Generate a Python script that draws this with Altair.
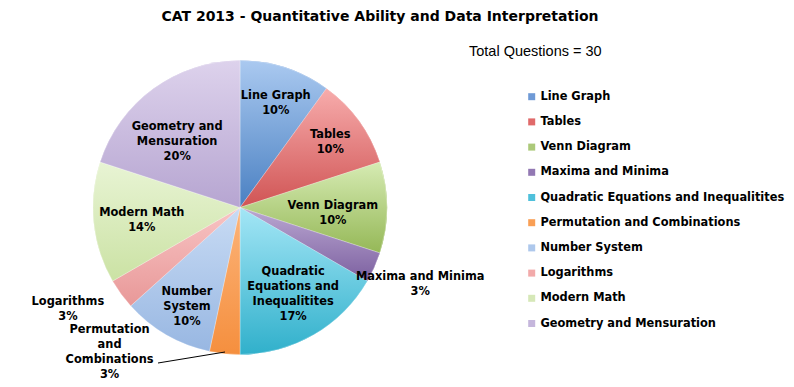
import altair as alt
import pandas as pd

categories = ["Line Graph", "Tables", "Venn Diagram", "Maxima and Minima",
              "Quadratic Equations and Inequalitites", "Permutation and Combinations",
              "Number System", "Logarithms", "Modern Math", "Geometry and Mensuration"]
counts = [3, 3, 3, 1, 5, 1, 3, 1, 4, 6]
pct_labels = ["10%", "10%", "10%", "3%", "17%", "3%", "10%", "3%", "14%", "20%"]
slice_names = ["Line Graph", "Tables", "Venn Diagram", "Maxima and Minima",
               "Quadratic\nEquations and\nInequalitites", "Permutation\nand\nCombinations",
               "Number\nSystem", "Logarithms", "Modern Math", "Geometry and\nMensuration"]
colors = ["#6f9ad6", "#e06a6a", "#acc97a", "#9278b3", "#4fc0db",
          "#f99f55", "#aec8ec", "#f2aaaa", "#d6e8b8", "#c5b6dc"]
top_colors = ["#aac9f0", "#f7acac", "#d6ebb3", "#bba8d2", "#a4e6f6",
              "#fcb47a", "#c8dbf4", "#f8c4c4", "#e8f4d4", "#ddd2ec"]
bottom_colors = ["#4a80c2", "#d05454", "#95b857", "#7c60a0", "#30b0cb",
                 "#f58f3e", "#98b7e2", "#e89898", "#cbe2a4", "#b6a5d1"]
title_text = "CAT 2013 - Quantitative Ability and Data Interpretation"
note_text = "Total Questions = 30"

labels = [n + "\n" + p for n, p in zip(slice_names, pct_labels)]
df = pd.DataFrame({
    "cat": categories,
    "count": counts,
    "idx": list(range(len(categories))),
    "label": labels,
})

CX, CY, R = 232, 199.5, 147
FONT = "DejaVu Sans"
FS = 11.4
LH = 15

base = alt.Chart(df).encode(
    theta=alt.Theta("count:Q", stack=True),
    order=alt.Order("idx:Q"),
)

arcs = base.mark_arc(outerRadius=R).encode(
    x=alt.value(CX), y=alt.value(CY),
    color=alt.Color("cat:N", sort=categories,
                    scale=alt.Scale(domain=categories, range=colors),
                    legend=alt.Legend(title=None, orient="none", legendX=518, legendY=83,
                                      symbolType="square", symbolSize=49, symbolStrokeWidth=0,
                                      labelFont=FONT, labelFontSize=11.4, labelFontWeight="bold",
                                      labelColor="black", rowPadding=12.2, padding=0,
                                      labelOffset=3, labelLimit=400)),
)


def grad_layer(cat, top, bottom):
    return base.mark_arc(
        outerRadius=R, stroke="white", strokeWidth=0.3,
        fill=alt.Gradient(gradient="linear", x1=0, y1=0, x2=0, y2=1,
                          stops=[alt.GradientStop(color=top, offset=0),
                                 alt.GradientStop(color=bottom, offset=1)]),
    ).encode(
        x=alt.value(CX), y=alt.value(CY),
        opacity=alt.condition("datum.cat == '" + cat + "'", alt.value(1), alt.value(0)),
    )


grads = [grad_layer(c, t, b) for c, t, b in zip(categories, top_colors, bottom_colors)]


def text_layer(cat, radius, theta_offset=0.0):
    nlines = labels[categories.index(cat)].count("\n") + 1
    expr = "datum.cat == '" + cat + "' ? datum.label : ''"
    return base.transform_calculate(t=expr).mark_text(
        radius=radius, thetaOffset=theta_offset, lineBreak="\n", lineHeight=LH, font=FONT,
        fontSize=FS, fontWeight="bold", color="black", align="center", baseline="middle",
        dy=-(nlines - 1) * LH / 2,
    ).encode(x=alt.value(CX), y=alt.value(CY), text="t:N")


layers = [
    text_layer("Line Graph", 110, 0.017),
    text_layer("Tables", 111, 0.007),
    text_layer("Venn Diagram", 93, 0.06),
    text_layer("Quadratic Equations and Inequalitites", 102, -0.024),
    text_layer("Number System", 113, -0.035),
    text_layer("Modern Math", 99, -0.023),
    text_layer("Geometry and Mensuration", 91, -0.134),
    text_layer("Maxima and Minima", 196, -0.015),
    text_layer("Logarithms", 200, 0.094),
    text_layer("Permutation and Combinations", 195, 0.628),
]

leader = alt.Chart(pd.DataFrame({"a": [0]})).mark_rule(color="black", strokeWidth=1).encode(
    x=alt.value(150), y=alt.value(355), x2=alt.value(217), y2=alt.value(344))

title = alt.Chart(pd.DataFrame({"t": [title_text]})).mark_text(
    font=FONT, fontSize=14, fontWeight="bold", color="black", align="center", baseline="middle"
).encode(x=alt.value(372), y=alt.value(9), text="t:N")

note = alt.Chart(pd.DataFrame({"t": [note_text]})).mark_text(
    font="Liberation Sans", fontSize=14.5, color="black", align="left", baseline="middle"
).encode(x=alt.value(461), y=alt.value(44), text="t:N")

chart = alt.layer(arcs, *grads, *layers, leader, title, note).properties(
    width=778, height=371, autosize=alt.AutoSizeParams(type="none"), padding=0,
).configure_view(stroke=None)

chart.save("out.html", embed_options={"renderer": "svg", "actions": False})
